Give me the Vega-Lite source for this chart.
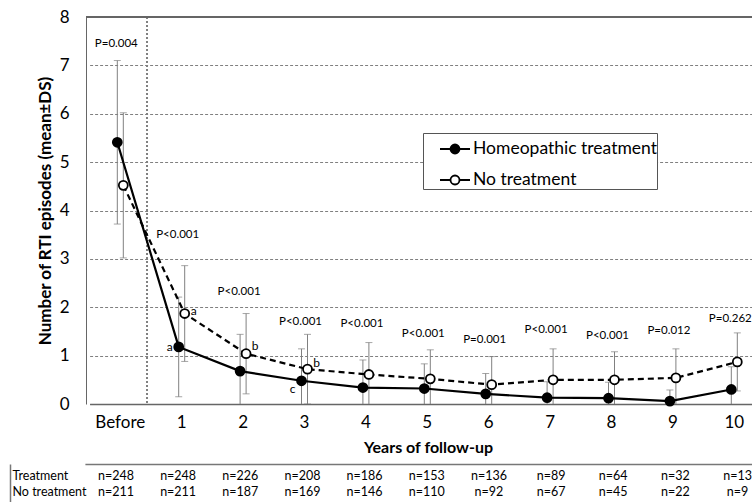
{
  "$schema": "https://vega.github.io/schema/vega-lite/v6.json",
  "background": "white",
  "padding": {"left": 10, "top": 8, "right": 0, "bottom": 0},
  "config": {
    "font": "Lato",
    "view": {"stroke": null},
    "axis": {"labelFont": "Lato", "titleFont": "Lato", "labelColor": "black", "titleColor": "black"}
  },
  "datasets": {
    "main": [
      {"t": "Before", "series": "Homeopathic treatment", "mean": 5.41, "lo": 3.72, "hi": 7.10},
      {"t": "1", "series": "Homeopathic treatment", "mean": 1.18, "lo": 0.15, "hi": 2.21},
      {"t": "2", "series": "Homeopathic treatment", "mean": 0.68, "lo": -0.08, "hi": 1.44},
      {"t": "3", "series": "Homeopathic treatment", "mean": 0.48, "lo": -0.18, "hi": 1.14},
      {"t": "4", "series": "Homeopathic treatment", "mean": 0.34, "lo": -0.23, "hi": 0.91},
      {"t": "5", "series": "Homeopathic treatment", "mean": 0.32, "lo": -0.19, "hi": 0.83},
      {"t": "6", "series": "Homeopathic treatment", "mean": 0.21, "lo": -0.21, "hi": 0.63},
      {"t": "7", "series": "Homeopathic treatment", "mean": 0.13, "lo": -0.20, "hi": 0.46},
      {"t": "8", "series": "Homeopathic treatment", "mean": 0.12, "lo": -0.21, "hi": 0.45},
      {"t": "9", "series": "Homeopathic treatment", "mean": 0.06, "lo": -0.17, "hi": 0.29},
      {"t": "10", "series": "Homeopathic treatment", "mean": 0.30, "lo": -0.17, "hi": 0.77},
      {"t": "Before", "series": "No treatment", "mean": 4.52, "lo": 3.02, "hi": 6.02},
      {"t": "1", "series": "No treatment", "mean": 1.87, "lo": 0.88, "hi": 2.86},
      {"t": "2", "series": "No treatment", "mean": 1.04, "lo": 0.21, "hi": 1.87},
      {"t": "3", "series": "No treatment", "mean": 0.72, "lo": 0.00, "hi": 1.44},
      {"t": "4", "series": "No treatment", "mean": 0.61, "lo": -0.05, "hi": 1.27},
      {"t": "5", "series": "No treatment", "mean": 0.52, "lo": -0.08, "hi": 1.12},
      {"t": "6", "series": "No treatment", "mean": 0.40, "lo": -0.18, "hi": 0.98},
      {"t": "7", "series": "No treatment", "mean": 0.50, "lo": -0.14, "hi": 1.14},
      {"t": "8", "series": "No treatment", "mean": 0.50, "lo": -0.08, "hi": 1.08},
      {"t": "9", "series": "No treatment", "mean": 0.54, "lo": -0.06, "hi": 1.14},
      {"t": "10", "series": "No treatment", "mean": 0.87, "lo": 0.27, "hi": 1.47}
    ],
    "pvals": [
      {"t": "Before", "p": "P=0.004", "py": 7.45},
      {"t": "1", "p": "P<0.001", "py": 3.49},
      {"t": "2", "p": "P<0.001", "py": 2.32},
      {"t": "3", "p": "P<0.001", "py": 1.70},
      {"t": "4", "p": "P<0.001", "py": 1.65},
      {"t": "5", "p": "P<0.001", "py": 1.45},
      {"t": "6", "p": "P=0.001", "py": 1.32},
      {"t": "7", "p": "P<0.001", "py": 1.53},
      {"t": "8", "p": "P<0.001", "py": 1.40},
      {"t": "9", "p": "P=0.012", "py": 1.51},
      {"t": "10", "p": "P=0.262", "py": 1.75}
    ],
    "letters": [
      {"t": "1", "series": "Homeopathic treatment", "letter": "a", "ly": 1.17},
      {"t": "3", "series": "Homeopathic treatment", "letter": "c", "ly": 0.30},
      {"t": "1", "series": "No treatment", "letter": "a", "ly": 1.92},
      {"t": "2", "series": "No treatment", "letter": "b", "ly": 1.20},
      {"t": "3", "series": "No treatment", "letter": "b", "ly": 0.85}
    ],
    "table": [
      {"row": "Treatment", "t": "Before", "n": "n=248"},
      {"row": "Treatment", "t": "1", "n": "n=248"},
      {"row": "Treatment", "t": "2", "n": "n=226"},
      {"row": "Treatment", "t": "3", "n": "n=208"},
      {"row": "Treatment", "t": "4", "n": "n=186"},
      {"row": "Treatment", "t": "5", "n": "n=153"},
      {"row": "Treatment", "t": "6", "n": "n=136"},
      {"row": "Treatment", "t": "7", "n": "n=89"},
      {"row": "Treatment", "t": "8", "n": "n=64"},
      {"row": "Treatment", "t": "9", "n": "n=32"},
      {"row": "Treatment", "t": "10", "n": "n=13"},
      {"row": "No treatment", "t": "Before", "n": "n=211"},
      {"row": "No treatment", "t": "1", "n": "n=211"},
      {"row": "No treatment", "t": "2", "n": "n=187"},
      {"row": "No treatment", "t": "3", "n": "n=169"},
      {"row": "No treatment", "t": "4", "n": "n=146"},
      {"row": "No treatment", "t": "5", "n": "n=110"},
      {"row": "No treatment", "t": "6", "n": "n=92"},
      {"row": "No treatment", "t": "7", "n": "n=67"},
      {"row": "No treatment", "t": "8", "n": "n=45"},
      {"row": "No treatment", "t": "9", "n": "n=22"},
      {"row": "No treatment", "t": "10", "n": "n=9"}
    ]
  },
  "spacing": 9,
  "vconcat": [
    {
      "spacing": 0,
      "hconcat": [
        {
          "width": 26,
          "height": 1,
          "view": {"fill": "white", "stroke": null},
          "data": {"values": []},
          "mark": "point"
        },
        {
          "width": 666,
          "height": 387,
          "layer": [
            {
              "data": {"name": "main"},
              "mark": {"type": "rule", "color": "#808080", "strokeWidth": 1, "strokeDash": [2, 2]},
              "encoding": {
                "x": {"datum": "Before", "type": "ordinal", "bandPosition": 0.935,
                  "scale": {"domain": ["Before", "1", "2", "3", "4", "5", "6", "7", "8", "9", "10"], "range": [3.6, 679], "paddingInner": 0, "paddingOuter": 0}}
              }
            },
            {
              "data": {"name": "main"},
              "mark": {"type": "rule", "color": "#666666", "strokeWidth": 1.5},
              "encoding": {"y": {"datum": 8, "type": "quantitative"}}
            },
            {
              "data": {"name": "main"},
              "mark": {"type": "rule", "color": "#808080", "strokeWidth": 1, "clip": true},
              "encoding": {
                "x": {"field": "t", "type": "ordinal",
                  "scale": {"domain": ["Before", "1", "2", "3", "4", "5", "6", "7", "8", "9", "10"], "range": [3.6, 679], "paddingInner": 0, "paddingOuter": 0},
                  "axis": {"title": "Years of follow-up", "titleFontSize": 16, "titleFontWeight": "bold", "titlePadding": 9, "titleX": 342,
                    "labelFontSize": 17, "labelFontWeight": "normal", "labelPadding": 18, "labelAngle": 0, "labelAlign": "center", "labelBaseline": "middle",
                    "ticks": false, "tickSize": 0, "grid": false,
                    "domainColor": "#666666", "domainWidth": 1.5}},
                "xOffset": {"field": "series", "type": "nominal", "scale": {"domain": ["Homeopathic treatment", "No treatment"], "range": [24.7, 36.7]}},
                "y": {"field": "lo", "type": "quantitative",
                  "scale": {"domain": [0, 8], "nice": false},
                  "axis": {"title": "Number of RTI episodes (mean±DS)", "titleFontSize": 17, "titleFontWeight": "bold", "titleX": -41, "titleBaseline": "middle", "titleAlign": "center",
                    "values": [0, 1, 2, 3, 4, 5, 6, 7, 8], "labelFontSize": 17, "labelPadding": 17, "ticks": false, "tickSize": 0,
                    "grid": true, "gridColor": "#808080", "gridDash": [3, 2], "gridWidth": 1,
                    "domainColor": "#666666", "domainWidth": 1}},
                "y2": {"field": "hi"}
              }
            },
            {
              "data": {"name": "main"},
              "mark": {"type": "tick", "orient": "horizontal", "color": "#808080", "size": 7, "thickness": 1, "clip": true},
              "encoding": {
                "x": {"field": "t", "type": "ordinal"},
                "xOffset": {"field": "series", "type": "nominal"},
                "y": {"field": "hi", "type": "quantitative"}
              }
            },
            {
              "data": {"name": "main"},
              "mark": {"type": "tick", "orient": "horizontal", "color": "#808080", "size": 7, "thickness": 1, "clip": true},
              "encoding": {
                "x": {"field": "t", "type": "ordinal"},
                "xOffset": {"field": "series", "type": "nominal"},
                "y": {"field": "lo", "type": "quantitative"}
              }
            },
            {
              "data": {"name": "main"},
              "transform": [{"filter": "datum.series === 'Homeopathic treatment'"}],
              "mark": {"type": "line", "color": "black", "strokeWidth": 2.2},
              "encoding": {
                "x": {"field": "t", "type": "ordinal"},
                "xOffset": {"field": "series", "type": "nominal"},
                "y": {"field": "mean", "type": "quantitative"},
                "order": {"value": null}
              }
            },
            {
              "data": {"name": "main"},
              "transform": [{"filter": "datum.series === 'No treatment'"}],
              "mark": {"type": "line", "color": "black", "strokeWidth": 2.2, "strokeDash": [6, 4]},
              "encoding": {
                "x": {"field": "t", "type": "ordinal"},
                "xOffset": {"field": "series", "type": "nominal"},
                "y": {"field": "mean", "type": "quantitative"},
                "order": {"value": null}
              }
            },
            {
              "data": {"name": "main"},
              "mark": {"type": "point", "shape": "circle", "filled": true, "stroke": "black", "strokeWidth": 1.8, "opacity": 1, "size": 80},
              "encoding": {
                "x": {"field": "t", "type": "ordinal"},
                "xOffset": {"field": "series", "type": "nominal"},
                "y": {"field": "mean", "type": "quantitative"},
                "fill": {"field": "series", "type": "nominal",
                  "scale": {"domain": ["Homeopathic treatment", "No treatment"], "range": ["black", "white"]},
                  "legend": {"title": null, "orient": "none", "legendX": 413, "legendY": 116,
                    "symbolType": "M-1,0H-0.3M0.3,0H1M0.3,0A0.3,0.3,0,1,1,-0.3,0A0.3,0.3,0,1,1,0.3,0Z",
                    "symbolSize": 900, "symbolStrokeColor": "black", "symbolStrokeWidth": 1.8, "symbolOffset": 16,
                    "labelFont": "Lato", "labelFontSize": 17.5, "labelColor": "black", "labelOffset": 2, "labelLimit": 400,
                    "padding": 0, "rowPadding": 6, "strokeColor": "#555555", "fillColor": "white"}}
              }
            },
            {
              "data": {"name": "pvals"},
              "mark": {"type": "text", "fontSize": 11.5, "fill": "black", "dx": -4, "baseline": "middle", "clip": true},
              "encoding": {
                "x": {"field": "t", "type": "ordinal"},
                "y": {"field": "py", "type": "quantitative"},
                "text": {"field": "p"}
              }
            },
            {
              "data": {"name": "letters"},
              "transform": [{"filter": "datum.series === 'Homeopathic treatment'"}],
              "mark": {"type": "text", "fontSize": 12, "fill": "black", "dx": -9, "baseline": "middle"},
              "encoding": {
                "x": {"field": "t", "type": "ordinal"},
                "xOffset": {"field": "series", "type": "nominal"},
                "y": {"field": "ly", "type": "quantitative"},
                "text": {"field": "letter"}
              }
            },
            {
              "data": {"name": "letters"},
              "transform": [{"filter": "datum.series === 'No treatment'"}],
              "mark": {"type": "text", "fontSize": 12, "fill": "black", "dx": 9, "baseline": "middle"},
              "encoding": {
                "x": {"field": "t", "type": "ordinal"},
                "xOffset": {"field": "series", "type": "nominal"},
                "y": {"field": "ly", "type": "quantitative"},
                "text": {"field": "letter"}
              }
            }
          ]
        }
      ]
    },
    {
      "width": 742,
      "height": 38,
      "data": {"name": "table"},
      "mark": {"type": "text", "fontSize": 12.5, "fill": "black", "baseline": "middle"},
      "encoding": {
        "x": {"field": "t", "type": "ordinal",
          "scale": {"domain": ["Before", "1", "2", "3", "4", "5", "6", "7", "8", "9", "10"], "range": [74.9, 758.6], "paddingInner": 0, "paddingOuter": 0},
          "axis": {"orient": "top", "title": null, "labels": false, "ticks": false, "grid": false, "domainColor": "#777777", "domainWidth": 1.5}},
        "y": {"field": "row", "type": "nominal",
          "scale": {"type": "point", "domain": ["Treatment", "No treatment"], "padding": 0.6875, "align": 0.545},
          "axis": {"title": null, "ticks": false, "tickSize": 0, "labelPadding": -2, "labelAlign": "left", "labelFontSize": 12.5, "labelFont": "Lato", "labelColor": "black", "labelBaseline": "middle", "domainColor": "#777777", "domainWidth": 1.5, "grid": false}},
        "text": {"field": "n"}
      }
    }
  ]
}
